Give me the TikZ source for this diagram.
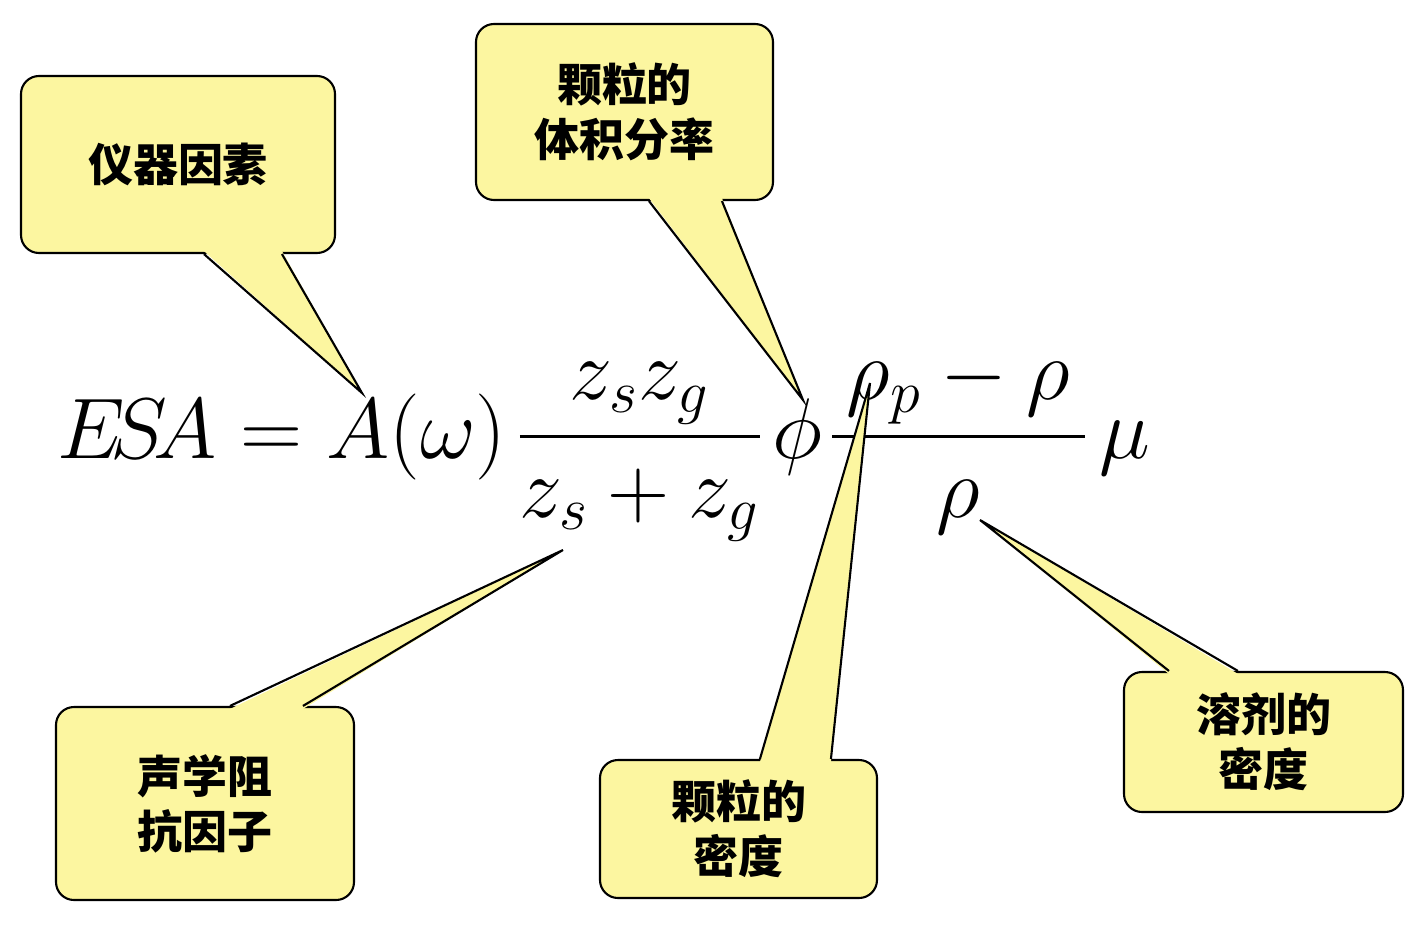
\RequirePackage{fix-cm}
\documentclass[tikz,border=0pt]{standalone}
\usepackage{amsmath}
\usepackage{fontspec}
\newfontfamily\cjk{Noto Sans CJK SC}
\usetikzlibrary{calc}
\definecolor{noteyellow}{RGB}{252, 246, 160}

\begin{document}
\begin{tikzpicture}[
  callout/.style={draw, fill=noteyellow, rounded corners=0.18cm, line width=0.6pt, align=center, inner sep=4pt, font=\cjk\bfseries\fontsize{12.8}{15.6}\selectfont},
  tail/.style={line width=0.6pt, line join=miter},
  formula/.style={anchor=base, inner sep=0pt, font=\fontsize{24.5}{29}\selectfont}
]
  \fill[white] (0,0) rectangle (14.17,9.31);
  \useasboundingbox (0,0) rectangle (14.17,9.31);

  % Formula
  \node[formula, anchor=base east] (lhs) at (5.07,4.73) {$E\mkern-3mu S\mkern-3mu A = A(\omega)$};
  \node[formula] (zfrac) at (6.40,4.73) {$\displaystyle\frac{z_s z_g}{z_s+z_g}$};
  \node[formula] (phi) at (7.97,4.73) {$\phi$};
  \node[formula] (rhofrac) at (9.585,4.73) {$\displaystyle\frac{\,\rho_p-\rho\,}{\rho}$};
  \node[formula] (mu) at (11.25,4.73) {$\mu$};

  % Instrument factor
  \node[callout, minimum width=3.14cm, minimum height=1.77cm] (instr) at (1.78,7.665) {仪器因素};
  \coordinate (instrtip) at (3.62,5.38);
  \fill[noteyellow] ($(instr.south west)+(1.84,0.03)$) -- (instrtip) -- ($(instr.south west)+(2.62,0.03)$) -- cycle;
  \draw[tail] ($(instr.south west)+(1.84,0)$) -- (instrtip) -- ($(instr.south west)+(2.62,0)$);

  % Volume fraction
  \node[callout, minimum width=2.97cm, minimum height=1.76cm] (volfrac) at (6.245,8.19) {颗粒的\\体积分率};
  \coordinate (volfractip) at (8.03,5.31);
  \fill[noteyellow] ($(volfrac.south west)+(1.74,0.03)$) -- (volfractip) -- ($(volfrac.south west)+(2.47,0.03)$) -- cycle;
  \draw[tail] ($(volfrac.south west)+(1.74,0)$) -- (volfractip) -- ($(volfrac.south west)+(2.47,0)$);

  % Acoustic impedance
  \node[callout, minimum width=2.98cm, minimum height=1.93cm] (imped) at (2.05,1.275) {声学阻\\抗因子};
  \coordinate (impedtip) at (5.63,3.81);
  \fill[noteyellow] ($(imped.north west)+(1.75,-0.03)$) -- (impedtip) -- ($(imped.north west)+(2.48,-0.03)$) -- cycle;
  \draw[tail] ($(imped.north west)+(1.75,0)$) -- (impedtip) -- ($(imped.north west)+(2.48,0)$);

  % Particle density
  \node[callout, minimum width=2.77cm, minimum height=1.38cm] (pdens) at (7.385,1.02) {颗粒的\\密度};
  \coordinate (pdenstip) at (8.70,5.48);
  \fill[noteyellow] ($(pdens.north west)+(1.61,-0.03)$) -- (pdenstip) -- ($(pdens.north west)+(2.32,-0.03)$) -- cycle;
  \draw[tail] ($(pdens.north west)+(1.61,0)$) -- (pdenstip) -- ($(pdens.north west)+(2.32,0)$);

  % Solvent density
  \node[callout, minimum width=2.79cm, minimum height=1.40cm] (sdens) at (12.635,1.89) {溶剂的\\密度};
  \coordinate (sdenstip) at (9.80,4.11);
  \fill[noteyellow] ($(sdens.north west)+(0.46,-0.03)$) -- (sdenstip) -- ($(sdens.north west)+(1.15,-0.03)$) -- cycle;
  \draw[tail] ($(sdens.north west)+(0.46,0)$) -- (sdenstip) -- ($(sdens.north west)+(1.15,0)$);
\end{tikzpicture}
\end{document}
